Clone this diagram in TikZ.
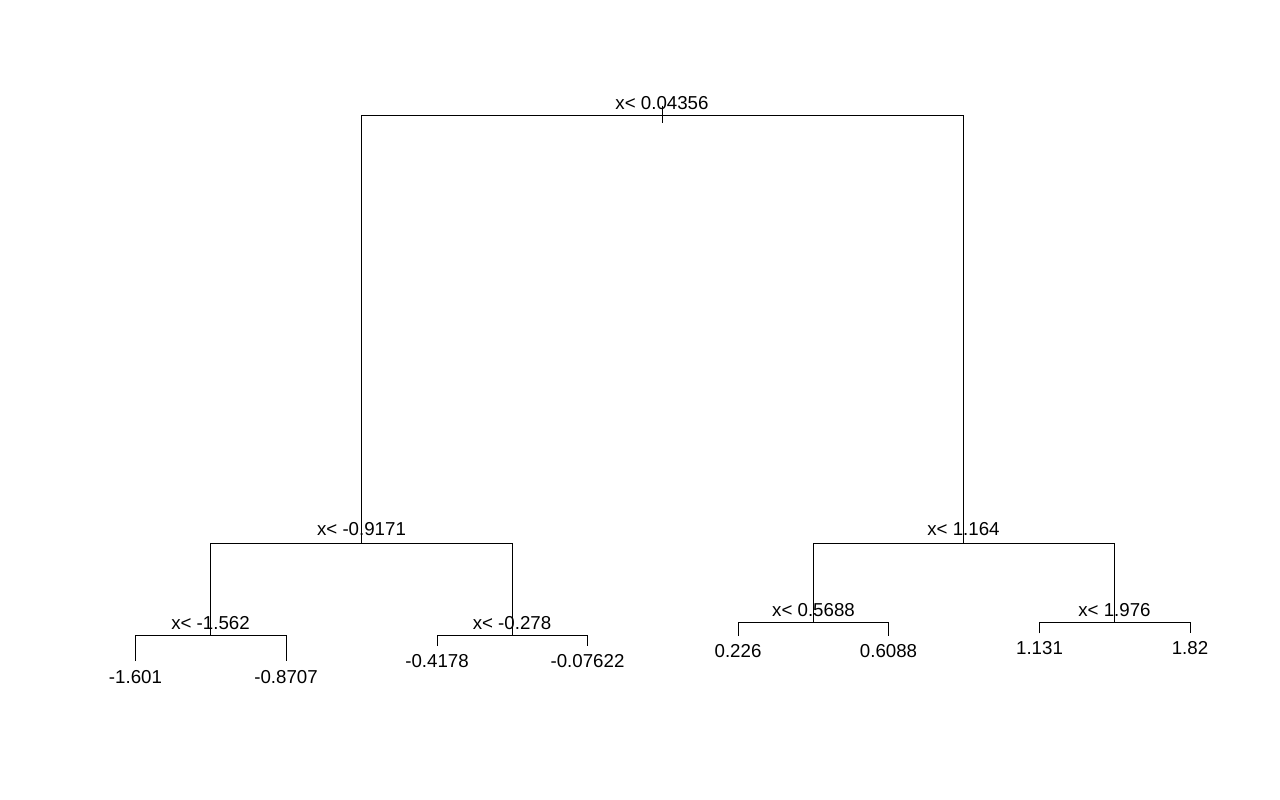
\documentclass[tikz,border=0pt]{standalone}
\usepackage{fontspec}
\setmainfont{Liberation Sans}
\begin{document}
\begin{tikzpicture}[x=1pt,y=-1pt,
  lbl/.style={anchor=base,inner sep=0pt,font=\fontsize{18.7}{22}\selectfont},
  br/.style={draw=black,line width=1pt}]
\useasboundingbox (0,0) rectangle (1280,800);
% split points
\coordinate (root) at (662,115.5);
\coordinate (rootTop) at (662,105.5);
\coordinate (rootBot) at (662,123);
\coordinate (L) at (361.5,543);
\coordinate (R) at (963.5,543);
\coordinate (LL) at (210.5,635.5);
\coordinate (LR) at (512,635.5);
\coordinate (RL) at (813.5,622.3);
\coordinate (RR) at (1114.5,622.3);
% leaf ends
\coordinate (l1) at (135.5,661);
\coordinate (l2) at (286,661);
\coordinate (l3) at (437,646);
\coordinate (l4) at (587.5,646);
\coordinate (l5) at (738,636);
\coordinate (l6) at (888.5,636);
\coordinate (l7) at (1039.5,633.3);
\coordinate (l8) at (1190,633.3);
% split labels
\node[lbl] (tRoot) at (662,109) {x< 0.04356};
\node[lbl] (tL) at (361.5,535) {x< -0.9171};
\node[lbl] (tR) at (963.5,535) {x< 1.164};
\node[lbl] (tLL) at (210.5,629) {x< -1.562};
\node[lbl] (tLR) at (512,629) {x< -0.278};
\node[lbl] (tRL) at (813.5,616) {x< 0.5688};
\node[lbl] (tRR) at (1114.5,616) {x< 1.976};
% leaf labels
\node[lbl] (v1) at (135.5,683) {-1.601};
\node[lbl] (v2) at (286,683) {-0.8707};
\node[lbl] (v3) at (437,667) {-0.4178};
\node[lbl] (v4) at (587.5,667) {-0.07622};
\node[lbl] (v5) at (738,657) {0.226};
\node[lbl] (v6) at (888.5,657) {0.6088};
\node[lbl] (v7) at (1039.5,654) {1.131};
\node[lbl] (v8) at (1190,654) {1.82};
% branches
\draw[br] (rootTop) -- (rootBot);
\draw[br] (L) -- (L |- root) -- (R |- root) -- (R);
\draw[br] (LL) -- (LL |- L) -- (LR |- L) -- (LR);
\draw[br] (RL) -- (RL |- R) -- (RR |- R) -- (RR);
\draw[br] (l1) -- (l1 |- LL) -- (l2 |- LL) -- (l2);
\draw[br] (l3) -- (l3 |- LR) -- (l4 |- LR) -- (l4);
\draw[br] (l5) -- (l5 |- RL) -- (l6 |- RL) -- (l6);
\draw[br] (l7) -- (l7 |- RR) -- (l8 |- RR) -- (l8);
\end{tikzpicture}
\end{document}
